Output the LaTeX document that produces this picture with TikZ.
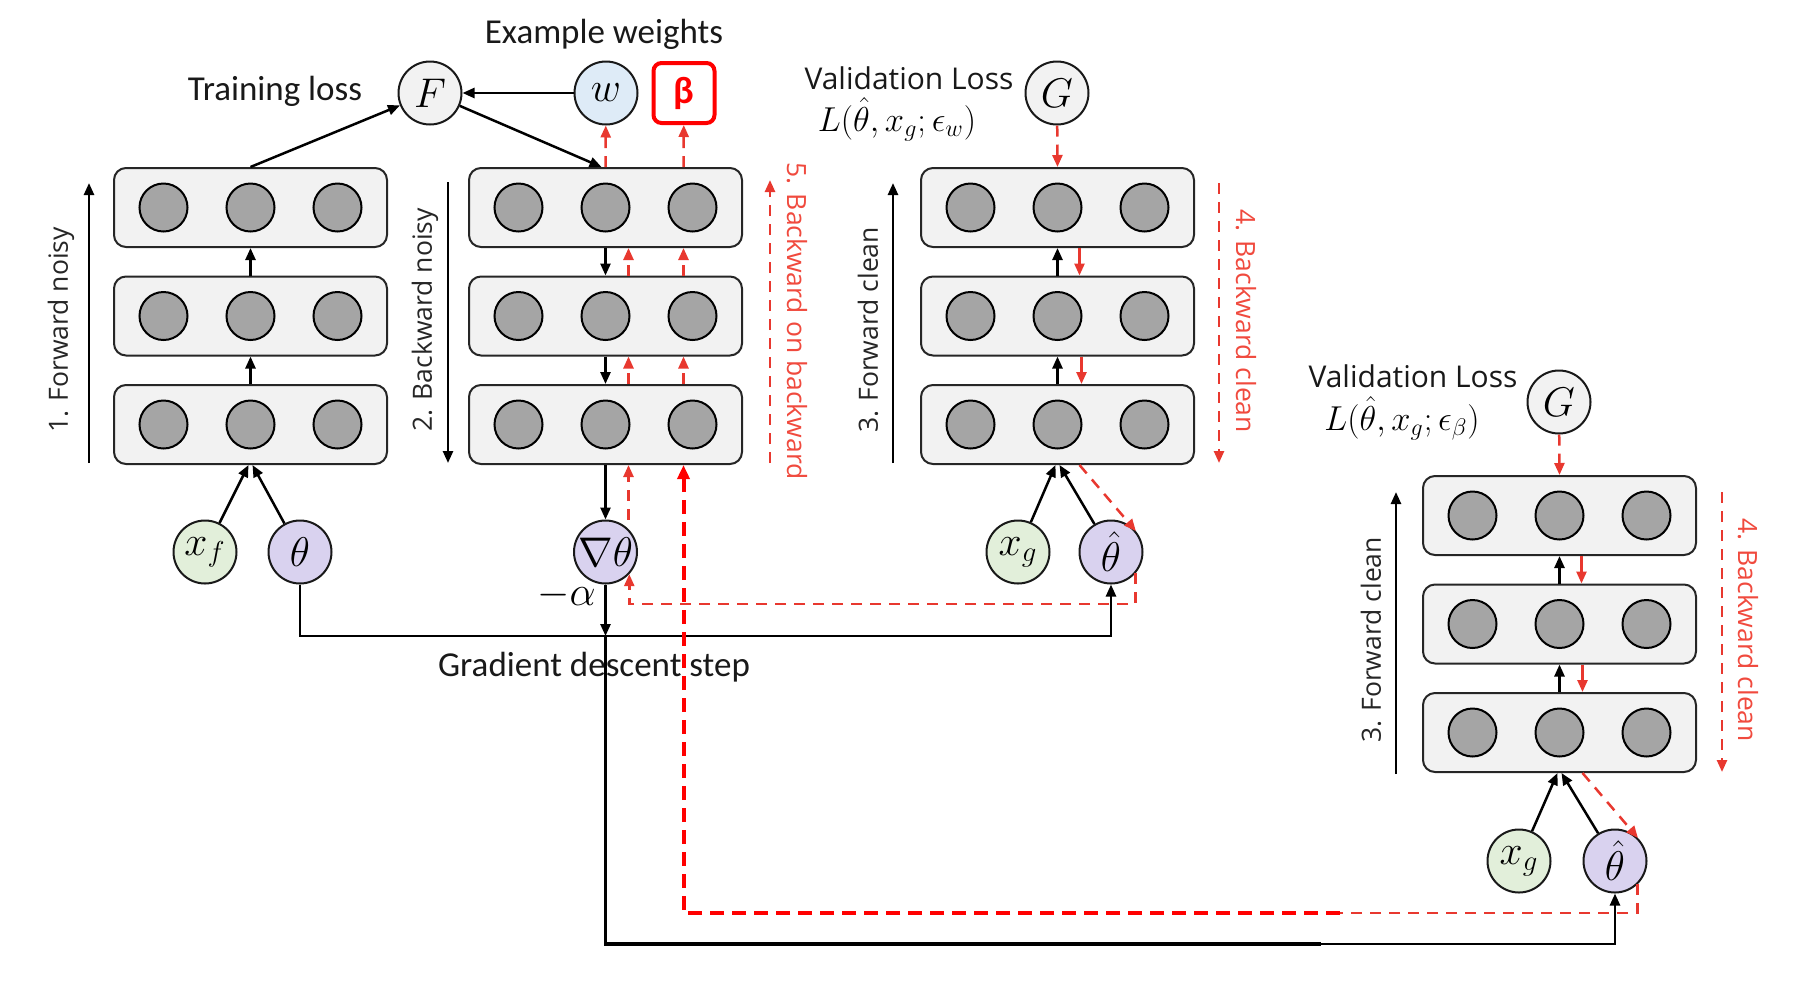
\documentclass[tikz,border=0pt]{standalone}
\usepackage{fontspec}
\usetikzlibrary{arrows.meta,calc}
\newfontfamily\carfont{Carlito}
\newfontfamily\opsfont{Open Sans}
\definecolor{boxgray}{HTML}{F2F2F2}
\definecolor{neugray}{HTML}{A5A5A5}
\definecolor{wblue}{HTML}{DEEBF7}
\definecolor{xgreen}{HTML}{E2EFDA}
\definecolor{thpurple}{HTML}{D9D2EF}
\definecolor{redd}{HTML}{E8382F}
\definecolor{redtxt}{HTML}{F04A3E}
\tikzset{
  layer/.style={rectangle, rounded corners=6pt, minimum width=136.5pt, minimum height=39.5pt, fill=boxgray, draw=black!85, line width=1pt, inner sep=0pt},
  neuron/.style={circle, minimum size=24pt, fill=neugray, draw=black, line width=1pt, inner sep=0pt},
  var/.style={circle, minimum size=31.5pt, draw=black!90, line width=1pt, inner sep=0pt, font=\fontsize{21}{21}\selectfont},
  blk/.style={line width=1.25pt, -{Triangle[length=6pt,width=5pt]}},
  rdash/.style={color=redd, line width=1.25pt, dash pattern=on 5.5pt off 4pt, -{Triangle[length=6pt,width=5pt]}},
  rsolid/.style={color=redd, line width=1.25pt, -{Triangle[length=6pt,width=5pt]}},
  rbold/.style={color=red, line width=2pt, dash pattern=on 7pt off 4pt, -{Triangle[length=7pt,width=6pt]}},
  txt/.style={font=\carfont\fontsize{17.5}{20}\selectfont, inner sep=0pt, text=black!90},
  vtxt/.style={font=\opsfont\fontsize{15}{18}\selectfont, inner sep=0pt, text=black!90},
  mtxt/.style={font=\fontsize{17}{18}\selectfont, inner sep=0pt},
  rtxt/.style={font=\opsfont\fontsize{13.25}{16}\selectfont, inner sep=0pt, text=black!85},
  betabox/.style={draw=red, line width=2pt, rounded corners=4pt, minimum width=30.5pt, minimum height=30pt, inner sep=0pt, text=red, font=\carfont\bfseries\fontsize{19}{19}\selectfont}
}
\begin{document}
\begin{tikzpicture}[x=0.5pt,y=-0.5pt]
\useasboundingbox (0,0) rectangle (1812,982);

% layer stacks
\foreach \cl/\cx/\cy in {a/250.5/207.5, b/605.5/207.5, c/1057.5/207.5, d/1559.5/515.5} {
  \foreach \rw/\ddy in {t/0, m/108.5, b/217} {
    \node[layer] (\cl\rw) at ({\cx},{\cy+\ddy}) {};
    \foreach \nk/\ddx in {1/-87, 2/0, 3/87}
      \node[neuron] (\cl\rw\nk) at ({\cx+\ddx},{\cy+\ddy}) {};
  }
}

% top nodes
\node[var, fill=boxgray] (F) at (430,93) {$F$};
\node[var, fill=wblue] (w) at (606,93) {$w$};
\node[betabox] (beta) at (684,93) {β};
\node[var, fill=boxgray] (G) at (1057,93) {$G$};
\node[var, fill=boxgray] (G2) at (1559,402) {$G$};

% bottom nodes
\node[var, fill=xgreen] (xf) at (205,552) {$x_f$};
\node[var, fill=thpurple] (th) at (300,552) {$\theta$};
\node[var, fill=thpurple] (gt) at (605.5,552) {$\nabla\theta$};
\node[var, fill=xgreen] (xg) at (1018,552) {$x_g$};
\node[var, fill=thpurple] (th1) at (1111,552) {$\hat{\theta}$};
\node[var, fill=xgreen] (xg2) at (1519,861) {$x_g$};
\node[var, fill=thpurple] (th2) at (1615,861) {$\hat{\theta}$};

% labels
\node[txt, anchor=base] (tl) at (275,100) {Training loss};
\node[txt, anchor=base] (ew) at (604,43) {Example weights};
\node[vtxt, anchor=base] (vl1) at (909,89) {Validation Loss};
\node[mtxt, anchor=base] (L1) at (897,131) {$L(\hat{\theta}, x_g; \epsilon_w)$};
\node[vtxt, anchor=base] (vl2) at (1413,387) {Validation Loss};
\node[mtxt, anchor=base] (L2) at (1402,430) {$L(\hat{\theta}, x_g; \epsilon_\beta)$};
\node[txt, anchor=base] (gds) at (594,676) {Gradient descent step};
\node[anchor=base east, font=\fontsize{20}{20}\selectfont, inner sep=0pt] (alpha) at (596,605) {$-\alpha$};

\node[rtxt, rotate=90] (r1) at (61,330) {1. Forward noisy};
\node[rtxt, rotate=90] (r2) at (425,320) {2. Backward noisy};
\node[rtxt, rotate=-90, text=redtxt] (r5) at (797,321) {5. Backward on backward};
\node[rtxt, rotate=90] (r3) at (868,330) {3. Forward clean};
\node[rtxt, rotate=-90, text=redtxt] (r4) at (1246,321) {4. Backward clean};
\node[rtxt, rotate=90] (r3b) at (1371,640) {3. Forward clean};
\node[rtxt, rotate=-90, text=redtxt] (r4b) at (1748,630) {4. Backward clean};

% side arrows
\coordinate (s1a) at (89,463);   \coordinate (s1b) at (89,183);
\coordinate (s2a) at (448,182);  \coordinate (s2b) at (448,463);
\coordinate (s5a) at (770,463);  \coordinate (s5b) at (770,180);
\coordinate (s3a) at (893,463);  \coordinate (s3b) at (893,183);
\coordinate (s4a) at (1219,183); \coordinate (s4b) at (1219,463);
\coordinate (s6a) at (1396,774); \coordinate (s6b) at (1396,492);
\coordinate (s7a) at (1722,492); \coordinate (s7b) at (1722,772);
\draw[blk] (s1a) -- (s1b);
\draw[blk] (s2a) -- (s2b);
\draw[rdash] (s5a) -- (s5b);
\draw[blk] (s3a) -- (s3b);
\draw[rdash] (s4a) -- (s4b);
\draw[blk] (s6a) -- (s6b);
\draw[rdash] (s7a) -- (s7b);

% column a
\draw[blk] (ab.north) -- (am.south);
\draw[blk] (am.north) -- (at.south);
\draw[blk] (xf) -- ([xshift=-1pt]ab.south);
\draw[blk] (th) -- ([xshift=1pt]ab.south);
\draw[blk] (at.north) -- (F);
\draw[blk] (F) -- ([xshift=-2pt]bt.north);
\draw[blk] (w) -- (F);

% column b
\draw[blk] (bt.south) -- (bm.north);
\draw[blk] (bm.south) -- (bb.north);
\draw[blk] (bb.south) -- (gt.north);
\draw[rdash] ([xshift=11.5pt]bm.north) -- ([xshift=11.5pt]bt.south);
\draw[rdash] ([xshift=11.5pt]bb.north) -- ([xshift=11.5pt]bm.south);
\draw[rdash] ([xshift=39pt]bm.north) -- ([xshift=39pt]bt.south);
\draw[rdash] ([xshift=39pt]bb.north) -- ([xshift=39pt]bm.south);
\draw[rdash] (bt.north) -- (w);
\draw[rdash] ([xshift=39pt]bt.north) -- (beta);
\draw[rdash] ([xshift=11.5pt]gt.north) -- ([xshift=11.5pt]bb.south);

% column c
\draw[rdash] (G) -- (ct.north);
\draw[blk] (cb.north) -- (cm.south);
\draw[blk] (cm.north) -- (ct.south);
\draw[rsolid] ([xshift=11pt]ct.south) -- ([xshift=11pt]cm.north);
\draw[rsolid] ([xshift=12pt]cm.south) -- ([xshift=12pt]cb.north);
\draw[blk] (xg) -- ([xshift=-1pt]cb.south);
\draw[blk] (th1) -- ([xshift=1pt]cb.south);
\draw[rdash] ([xshift=11pt]cb.south) -- (th1.40);
\coordinate (ry) at (0,604);
\draw[rdash] (th1.-41) -- (th1.-41 |- ry) -| (gt.-43);

% gradient step
\coordinate (gy) at (0,636);
\draw[blk] (th.south) -- (th.south |- gy) -- (th1.south |- gy) -- (th1.south);
\draw[blk] (gt.south) -- (gt.south |- gy);
\coordinate (by) at (0,944);
\coordinate (bmid) at (1321,944);
\draw[line width=1.75pt] (gt.south |- gy) -- (gt.south |- by) -- (bmid);
\draw[blk] (bmid) -| (th2.south);

% column d
\draw[rdash] (G2) -- (dt.north);
\draw[blk] (db.north) -- (dm.south);
\draw[blk] (dm.north) -- (dt.south);
\draw[rsolid] ([xshift=11pt]dt.south) -- ([xshift=11pt]dm.north);
\draw[rsolid] ([xshift=11.5pt]dm.south) -- ([xshift=11.5pt]db.north);
\draw[blk] (xg2) -- ([xshift=-1pt]db.south);
\draw[blk] (th2) -- ([xshift=1pt]db.south);
\draw[rdash] ([xshift=11.5pt]db.south) -- (th2.45);
\coordinate (ry2) at (0,913);
\coordinate (rmid) at (1340,913);
\draw[rdash, -] (th2.-46) -- (th2.-46 |- ry2) -- (rmid);
\draw[rbold] (rmid) -| ([xshift=39pt]bb.south);
\end{tikzpicture}
\end{document}
